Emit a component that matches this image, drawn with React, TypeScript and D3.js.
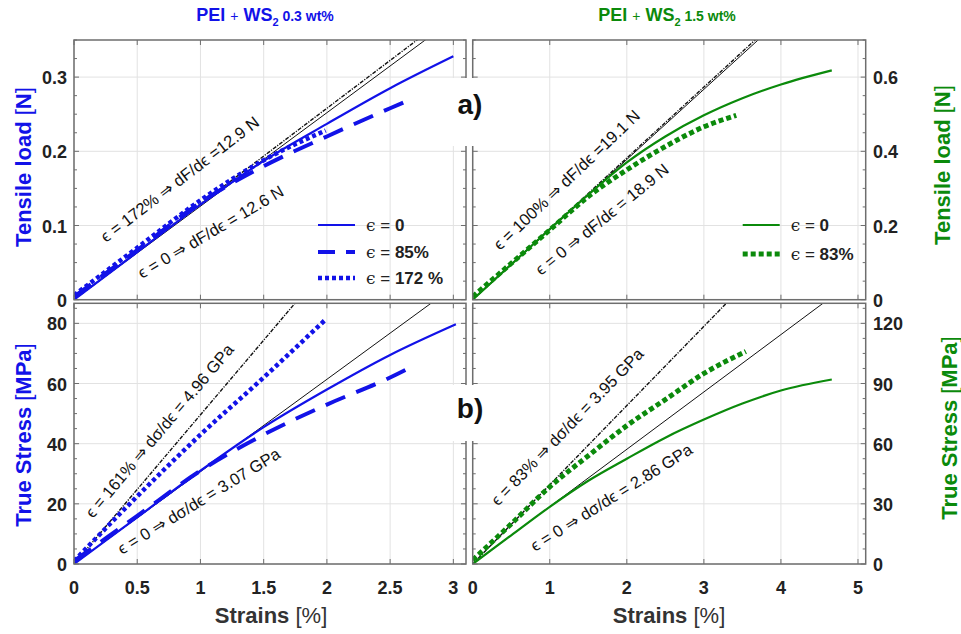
import React from "react";
import * as d3 from "d3";

const BLUE = "#1212e8";
const GREEN = "#0b8a0b";
const INK = "#222";

// axis ticks
const strainTicksLow = [0, 0.5, 1, 1.5, 2, 2.5, 3];
const strainTicksHigh = [0, 1, 2, 3, 4, 5];
const loadTicksLow = [0, 0.1, 0.2, 0.3];
const loadTicksHigh = [0, 0.2, 0.4, 0.6];
const stressTicksLow = [0, 20, 40, 60, 80];
const stressTicksHigh = [0, 30, 60, 90, 120];

// PEI + WS2 0.3 wt% — tensile load [N]
const lowLoadStrainA = [0, 0.5, 1, 1.5, 2, 2.5, 3.0];
const lowLoadA = [0, 0.064, 0.128, 0.187, 0.237, 0.285, 0.328];
const lowLoadStrainB = [0, 0.5, 1, 1.5, 2, 2.5, 2.68];
const lowLoadB = [0.004, 0.067, 0.131, 0.18, 0.22, 0.258, 0.271];
const lowLoadStrainC = [0, 0.5, 1, 1.5, 1.99];
const lowLoadC = [0.006, 0.07, 0.134, 0.188, 0.228];

// PEI + WS2 1.5 wt% — tensile load [N]
const highLoadStrainA = [0, 0.5, 1, 1.5, 2, 2.5, 3, 3.5, 4, 4.66];
const highLoadA = [0, 0.095, 0.19, 0.283, 0.37, 0.44, 0.497, 0.543, 0.58, 0.618];
const highLoadStrainB = [0, 0.5, 1, 1.5, 2, 2.5, 3, 3.42];
const highLoadB = [0.008, 0.098, 0.188, 0.278, 0.35, 0.413, 0.466, 0.497];

// PEI + WS2 0.3 wt% — true stress [MPa]
const lowStressStrainA = [0, 0.5, 1, 1.5, 2, 2.5, 3.02];
const lowStressA = [0, 15.5, 31, 45.5, 58, 69.5, 79.7];
const lowStressStrainB = [0, 0.5, 1, 1.5, 2, 2.5, 2.69];
const lowStressB = [1, 16, 31, 43, 53, 62, 66];
const lowStressStrainC = [0, 0.5, 1, 1.5, 1.99];
const lowStressC = [1, 22.5, 43, 62, 81.3];

// PEI + WS2 1.5 wt% — true stress [MPa]
const highStressStrainA = [0, 0.5, 1, 1.5, 2, 2.5, 3, 3.5, 4, 4.66];
const highStressA = [0, 14.3, 28.5, 41.5, 52.5, 63, 72, 80, 86.5, 92];
const highStressStrainB = [0, 0.5, 1, 1.5, 2, 2.5, 3, 3.545];
const highStressB = [2, 20, 38.5, 54, 69, 82, 95, 106];

// initial slopes: load in N, modulus in GPa
const lowLoadSlopes = [12.6, 12.9];
const highLoadSlopes = [18.9, 19.1];
const lowStressSlopes = [3.07, 4.96];
const highStressSlopes = [2.86, 3.95];

// pre-strain levels
const lowPrestrainLoad = ["0", "85%", "172 %"];
const highPrestrainLoad = ["0", "83%"];
const lowFitStrains = ["0", "172%"];
const highFitStrains = ["0", "100%"];
const lowStressFitStrains = ["0", "161%"];
const highStressFitStrains = ["0", "83%"];

const FRAME = { l1: 74, r1: 466, l2: 472.7, r2: 865.7, t1: 40, b1: 299.7, t2: 303.3, b2: 564 };

const xLow1 = d3.scaleLinear().domain([0, 3.1]).range([FRAME.l1, FRAME.r1]);
const xHigh = d3.scaleLinear().domain([0, 5.1]).range([FRAME.l2, FRAME.r2]);
const yLoadLow = d3.scaleLinear().domain([0, 0.35]).range([FRAME.b1, FRAME.t1]);
const yLoadHigh = d3.scaleLinear().domain([0, 0.7]).range([FRAME.b1, FRAME.t1]);
const yStressLow = d3.scaleLinear().domain([0, 130 * 2 / 3]).range([FRAME.b2, FRAME.t2]);
const yStressHigh = d3.scaleLinear().domain([0, 130]).range([FRAME.b2, FRAME.t2]);

type Series = { xs: number[]; ys: number[]; color: string; kind: "solid" | "dash" | "dot" | "dotG" };
type Fit = { slope: number; kind: "solid" | "dashdot" };
type Note = { x: number; y: number; angle: number; text: string };

const styleOf = (kind: string) => {
  switch (kind) {
    case "dash":
      return { w: 4, dash: "21,12" };
    case "dot":
      return { w: 4.5, dash: "4,3" };
    case "dotG":
      return { w: 5, dash: "5,3" };
    default:
      return { w: 2.2, dash: undefined as string | undefined };
  }
};

function Panel(props: {
  id: string;
  x: d3.ScaleLinear<number, number>;
  y: d3.ScaleLinear<number, number>;
  xTicks: number[];
  yTicks: number[];
  series: Series[];
  fits: Fit[];
  perUnit: number;
  notes: Note[];
}) {
  const { id, x, y, xTicks, yTicks, series, fits, perUnit, notes } = props;
  const [x0, x1] = x.range();
  const [y0, y1] = y.range();
  const step = yTicks[1] - yTicks[0];
  const minor: number[] = [];
  const yMax = y.domain()[1];
  for (let v = 0; v <= yMax + 1e-9; v += step / 4) minor.push(v);
  const line = d3
    .line<[number, number]>()
    .x((d) => x(d[0]))
    .y((d) => y(d[1]))
    .curve(d3.curveMonotoneX);
  const xEnd = x.domain()[1];
  return (
    <g>
      <defs>
        <clipPath id={id}>
          <rect x={x0} y={y1} width={x1 - x0} height={y0 - y1} />
        </clipPath>
      </defs>
      {xTicks.map((t) => (
        <line key={"gx" + t} x1={x(t)} x2={x(t)} y1={y0} y2={y1} stroke="#e2e2e2" strokeWidth={1} />
      ))}
      {yTicks.map((t) => (
        <line key={"gy" + t} x1={x0} x2={x1} y1={y(t)} y2={y(t)} stroke="#e2e2e2" strokeWidth={1} />
      ))}
      <g clipPath={`url(#${id})`}>
        {fits.map((f, i) => {
          const k = (f.slope * perUnit);
          const pts: [number, number][] = [
            [0, 0],
            [xEnd, k * xEnd],
          ];
          return (
            <path
              key={"f" + i}
              d={line.curve(d3.curveLinear)(pts) || ""}
              fill="none"
              stroke="#111"
              strokeWidth={f.kind === "solid" ? 1 : 1.4}
              strokeDasharray={f.kind === "dashdot" ? "4,1.3,1.2,1.3" : undefined}
            />
          );
        })}
        {series.map((s, i) => {
          const st = styleOf(s.kind);
          const pts = s.xs.map((v, j) => [v, s.ys[j]] as [number, number]);
          return (
            <path
              key={"s" + i}
              d={line.curve(d3.curveMonotoneX)(pts) || ""}
              fill="none"
              stroke={s.color}
              strokeWidth={st.w}
              strokeDasharray={st.dash}
            />
          );
        })}
      </g>
      {notes.map((n, i) => (
        <text
          key={"n" + i}
          transform={`translate(${x(n.x)},${y(n.y)}) rotate(${n.angle})`}
          fontFamily="Liberation Sans, Arial, sans-serif"
          fontSize={16.5}
          fill="#111"
        >
          {n.text}
        </text>
      ))}
      <rect x={x0} y={y1} width={x1 - x0} height={y0 - y1} fill="none" stroke="#6e6e6e" strokeWidth={1.5} />
      {minor.map((v, i) => {
        const len = i % 4 === 0 ? 5 : 3;
        return (
          <g key={"my" + i} stroke="#6e6e6e" strokeWidth={1}>
            <line x1={x0} x2={x0 + len} y1={y(v)} y2={y(v)} />
            <line x1={x1} x2={x1 - len} y1={y(v)} y2={y(v)} />
          </g>
        );
      })}
      {xTicks.map((t) => (
        <g key={"tx" + t} stroke="#6e6e6e" strokeWidth={1}>
          <line x1={x(t)} x2={x(t)} y1={y0} y2={y0 - 5} />
          <line x1={x(t)} x2={x(t)} y1={y1} y2={y1 + 5} />
        </g>
      ))}
    </g>
  );
}

function LegendRow(props: { x: number; y: number; color: string; kind: string; label: string }) {
  const { x, y, color, kind, label } = props;
  const st = styleOf(kind);
  const dash = kind === "dash" ? "17,11" : st.dash;
  return (
    <g>
      <line x1={x} x2={x + 37} y1={y} y2={y} stroke={color} strokeWidth={st.w} strokeDasharray={dash} />
      <text x={x + 48} y={y + 6} fontSize={17} fill="#222" fontFamily="Liberation Sans, Arial, sans-serif">
        <tspan fontFamily="DejaVu Serif, serif">ϵ</tspan>
        <tspan> = </tspan>
        <tspan fontWeight="bold">{label}</tspan>
      </text>
    </g>
  );
}

const tickFmt = (v: number) => String(v);

export default function App() {
  const LABEL_FONT = "Liberation Sans, Arial, sans-serif";
  const loadNote = (pre: string, slope: number, tight: boolean) =>
    `ϵ = ${pre} ⇒ dF/dϵ ${tight ? "=" : "= "}${slope} N`;
  const stressNote = (pre: string, slope: number) => `ϵ = ${pre} ⇒ dσ/dϵ = ${slope} GPa`;

  return (
    <svg width={961} height={634} style={{ position: "absolute", left: 0, top: 0, background: "#fff" }}>
      <rect x={0} y={0} width={961} height={634} fill="#fff" />

      <Panel
        id="clipA"
        x={xLow1}
        y={yLoadLow}
        xTicks={strainTicksLow}
        yTicks={loadTicksLow}
        perUnit={0.01}
        fits={[
          { slope: lowLoadSlopes[0], kind: "solid" },
          { slope: lowLoadSlopes[1], kind: "dashdot" },
        ]}
        series={[
          { xs: lowLoadStrainA, ys: lowLoadA, color: BLUE, kind: "solid" },
          { xs: lowLoadStrainB, ys: lowLoadB, color: BLUE, kind: "dash" },
          { xs: lowLoadStrainC, ys: lowLoadC, color: BLUE, kind: "dot" },
        ]}
        notes={[
          { x: 0.253, y: 0.0763, angle: -37.5, text: loadNote(lowFitStrains[1], lowLoadSlopes[1], true) },
          { x: 0.537, y: 0.0278, angle: -30.5, text: loadNote(lowFitStrains[0], lowLoadSlopes[0], false) },
        ]}
      />
      <Panel
        id="clipB"
        x={xHigh}
        y={yLoadHigh}
        xTicks={strainTicksHigh}
        yTicks={loadTicksHigh}
        perUnit={0.01}
        fits={[
          { slope: highLoadSlopes[0], kind: "solid" },
          { slope: highLoadSlopes[1], kind: "dashdot" },
        ]}
        series={[
          { xs: highLoadStrainA, ys: highLoadA, color: GREEN, kind: "solid" },
          { xs: highLoadStrainB, ys: highLoadB, color: GREEN, kind: "dotG" },
        ]}
        notes={[
          { x: 0.354, y: 0.131, angle: -43.5, text: loadNote(highFitStrains[1], highLoadSlopes[1], true) },
          { x: 0.886, y: 0.0638, angle: -39, text: loadNote(highFitStrains[0], highLoadSlopes[0], false) },
        ]}
      />
      <Panel
        id="clipC"
        x={xLow1.copy().range([FRAME.l1, FRAME.r1])}
        y={yStressLow}
        xTicks={strainTicksLow}
        yTicks={stressTicksLow}
        perUnit={10}
        fits={[
          { slope: lowStressSlopes[0], kind: "solid" },
          { slope: lowStressSlopes[1], kind: "dashdot" },
        ]}
        series={[
          { xs: lowStressStrainA, ys: lowStressA, color: BLUE, kind: "solid" },
          { xs: lowStressStrainB, ys: lowStressB, color: BLUE, kind: "dash" },
          { xs: lowStressStrainC, ys: lowStressC, color: BLUE, kind: "dot" },
        ]}
        notes={[
          { x: 0.15, y: 15, angle: -50, text: stressNote(lowStressFitStrains[1], lowStressSlopes[1]) },
          { x: 0.379, y: 3, angle: -31.5, text: stressNote(lowStressFitStrains[0], lowStressSlopes[0]) },
        ]}
      />
      <Panel
        id="clipD"
        x={xHigh}
        y={yStressHigh}
        xTicks={strainTicksHigh}
        yTicks={stressTicksHigh}
        perUnit={10}
        fits={[
          { slope: highStressSlopes[0], kind: "solid" },
          { slope: highStressSlopes[1], kind: "dashdot" },
        ]}
        series={[
          { xs: highStressStrainA, ys: highStressA, color: GREEN, kind: "solid" },
          { xs: highStressStrainB, ys: highStressB, color: GREEN, kind: "dotG" },
        ]}
        notes={[
          { x: 0.328, y: 28.5, angle: -46, text: stressNote(highStressFitStrains[1], highStressSlopes[1]) },
          { x: 0.808, y: 6, angle: -32, text: stressNote(highStressFitStrains[0], highStressSlopes[0]) },
        ]}
      />

      {/* panel tags */}
      <rect x={452} y={78} width={36} height={68} fill="#fff" />
      <rect x={452} y={385} width={36} height={56} fill="#fff" />
      <text x={470} y={114} textAnchor="middle" fontFamily={LABEL_FONT} fontWeight="bold" fontSize={28} fill="#111">
        a)
      </text>
      <text x={470} y={418} textAnchor="middle" fontFamily={LABEL_FONT} fontWeight="bold" fontSize={28} fill="#111">
        b)
      </text>

      {/* y tick labels */}
      <g fontFamily={LABEL_FONT} fontWeight="bold" fontSize={18} fill={INK}>
        {loadTicksLow.map((t) => (
          <text key={"a" + t} x={67} y={yLoadLow(t) + 7} textAnchor="end">
            {tickFmt(t)}
          </text>
        ))}
        {stressTicksLow.map((t) => (
          <text key={"c" + t} x={67} y={yStressLow(t) + 7} textAnchor="end">
            {tickFmt(t)}
          </text>
        ))}
        {loadTicksHigh.map((t) => (
          <text key={"b" + t} x={873} y={yLoadHigh(t) + 7} textAnchor="start">
            {tickFmt(t)}
          </text>
        ))}
        {stressTicksHigh.map((t) => (
          <text key={"d" + t} x={873} y={yStressHigh(t) + 7} textAnchor="start">
            {tickFmt(t)}
          </text>
        ))}
        {strainTicksLow.map((t) => (
          <text key={"e" + t} x={xLow1(t)} y={594} textAnchor="middle">
            {tickFmt(t)}
          </text>
        ))}
        {strainTicksHigh.map((t) => (
          <text key={"f" + t} x={xHigh(t)} y={594} textAnchor="middle">
            {tickFmt(t)}
          </text>
        ))}
      </g>

      {/* titles */}
      <text x={265} y={21} textAnchor="middle" fontFamily={LABEL_FONT} fontWeight="bold" fill={BLUE}>
        <tspan fontSize={18}>PEI </tspan>
        <tspan fontSize={14} fontWeight="normal">+</tspan>
        <tspan fontSize={18}> WS</tspan>
        <tspan fontSize={11} dy={5}>2</tspan>
        <tspan fontSize={14} dy={-5}> 0.3 wt%</tspan>
      </text>
      <text x={667} y={21} textAnchor="middle" fontFamily={LABEL_FONT} fontWeight="bold" fill={GREEN}>
        <tspan fontSize={18}>PEI </tspan>
        <tspan fontSize={14} fontWeight="normal">+</tspan>
        <tspan fontSize={18}> WS</tspan>
        <tspan fontSize={11} dy={5}>2</tspan>
        <tspan fontSize={14} dy={-5}> 1.5 wt%</tspan>
      </text>

      {/* axis titles */}
      <g fontFamily={LABEL_FONT} fontWeight="bold" fontSize={22}>
        <text transform="translate(31,167) rotate(-90)" textAnchor="middle" fill={BLUE}>
          Tensile load <tspan fontWeight="normal">[</tspan>N<tspan fontWeight="normal">]</tspan>
        </text>
        <text transform="translate(950,165) rotate(-90)" textAnchor="middle" fill={GREEN}>
          Tensile load <tspan fontWeight="normal">[</tspan>N<tspan fontWeight="normal">]</tspan>
        </text>
        <text transform="translate(31,435) rotate(-90)" textAnchor="middle" fill={BLUE}>
          True Stress <tspan fontWeight="normal">[</tspan>MPa<tspan fontWeight="normal">]</tspan>
        </text>
        <text transform="translate(957,428) rotate(-90)" textAnchor="middle" fill={GREEN}>
          True Stress <tspan fontWeight="normal">[</tspan>MPa<tspan fontWeight="normal">]</tspan>
        </text>
        <text x={271} y={623} textAnchor="middle" fill="#333">
          Strains <tspan fontWeight="normal">[%]</tspan>
        </text>
        <text x={669} y={623} textAnchor="middle" fill="#333">
          Strains <tspan fontWeight="normal">[%]</tspan>
        </text>
      </g>

      {/* legends */}
      <LegendRow x={318} y={225} color={BLUE} kind="solid" label={lowPrestrainLoad[0]} />
      <LegendRow x={318} y={252} color={BLUE} kind="dash" label={lowPrestrainLoad[1]} />
      <LegendRow x={318} y={278} color={BLUE} kind="dot" label={lowPrestrainLoad[2]} />
      <LegendRow x={742.7} y={225} color={GREEN} kind="solid" label={highPrestrainLoad[0]} />
      <LegendRow x={742.7} y={254} color={GREEN} kind="dotG" label={highPrestrainLoad[1]} />
    </svg>
  );
}
